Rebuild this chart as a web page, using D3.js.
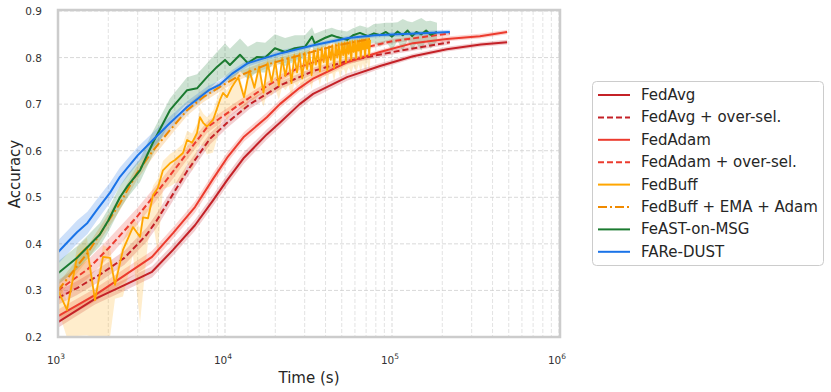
<!DOCTYPE html>
<html>
<head>
<meta charset="utf-8">
<script src="https://cdn.jsdelivr.net/npm/d3@7"></script>
<style>
  body { margin: 0; background: #fff; }
  svg { font-family: 'DejaVu Sans', sans-serif; }
</style>
</head>
<body>
<svg id="chart" width="831" height="392"></svg>
<script>
// [time (s), accuracy, band below, band above (optional)]
const fedAvg = [
  [1000, .232, .012], [1665, .282, .012], [2518, .312, .012], [3656, .34, .012],
  [4885, .387, .012], [6610, .44, .012], [8500, .494, .012], [10300, .537, .012],
  [13000, .585, .012], [17800, .635, .011], [21300, .66, .01], [28000, .70, .01],
  [33700, .722, .009], [53800, .758, .008], [84800, .782, .006], [133700, .803, .005],
  [213000, .818, .005], [340000, .828, .005], [489000, .833, .005]
];
const fedAvgOver = [
  [1000, .284, .015], [1300, .305, .015], [1800, .335, .015], [2500, .37, .015],
  [3400, .42, .015], [3900, .45, .015], [5900, .555, .014], [8100, .625, .012],
  [10300, .66, .011], [14100, .70, .01], [21900, .742, .008], [34400, .772, .007],
  [54600, .793, .006], [112000, .815, .005], [222000, .833, .005]
];
const fedAdam = [
  [1000, .245, .014], [1665, .29, .014], [2518, .333, .014], [3656, .372, .013],
  [4885, .423, .012], [6610, .479, .012], [8500, .54, .012], [10300, .585, .011],
  [13000, .63, .01], [17800, .672, .01], [21300, .70, .009], [28000, .735, .008],
  [33700, .755, .008], [53800, .79, .006], [84800, .812, .005], [133700, .831, .005],
  [213000, .84, .005], [336000, .846, .005], [489000, .855, .005]
];
const fedAdamOver = [
  [1000, .30, .022], [1500, .345, .02], [2000, .39, .02], [3000, .46, .018],
  [4100, .52, .016], [5000, .56, .015], [7800, .65, .012], [12300, .70, .01],
  [18000, .74, .008], [28100, .78, .006], [50000, .81, .005], [100000, .835, .005],
  [222000, .852, .005]
];
const fedBuff = [
  [1000, .30, .04, .02], [1132, .258, .06, .02], [1300, .372, .17, .02], [1490, .393, .19, .02],
  [1665, .279, .08, .02], [1860, .372, .17, .025], [2050, .37, .17, .02], [2195, .312, .03, .02],
  [2450, .387, .10, .02], [2810, .436, .06, .02], [3100, .415, .185, .02], [3230, .457, .16, .02],
  [3460, .455, .05, .02], [3710, .505, .06, .02], [3960, .52, .14, .02], [4250, .558, .04, .02],
  [4680, .573, .05, .02], [5020, .58, .05, .02], [5600, .595, .06, .02], [5930, .623, .05, .02],
  [6350, .617, .06, .02], [6800, .638, .04, .02], [7080, .672, .06, .02], [7400, .66, .05, .02],
  [7800, .652, .06, .02], [8480, .666, .07, .02], [9330, .709, .06, .02], [9740, .724, .04, .015],
  [10270, .715, .05, .015], [11000, .737, .05, .015],
  [12000, .758, .06, .012], [13000, .715, .03, .012], [14000, .772, .06, .012], [15000, .735, .03, .012],
  [16000, .780, .06, .012], [17000, .725, .03, .012], [18000, .788, .06, .012], [19000, .748, .03, .012],
  [20000, .792, .06, .012], [21000, .740, .03, .012], [22000, .798, .06, .012], [23000, .760, .03, .012],
  [24000, .800, .06, .012], [25000, .745, .03, .012], [26000, .805, .06, .012], [27000, .768, .03, .012],
  [28000, .808, .06, .012], [29000, .755, .03, .012], [30000, .810, .06, .012], [31000, .775, .03, .012],
  [32000, .812, .06, .012], [33000, .762, .03, .012], [34000, .815, .06, .012], [35000, .785, .03, .012],
  [36000, .818, .06, .012], [37000, .770, .03, .012], [38000, .820, .06, .012], [39000, .790, .03, .012],
  [40000, .822, .06, .012], [41000, .772, .03, .012], [42000, .824, .06, .012], [43000, .795, .03, .012],
  [44000, .826, .06, .012], [45000, .778, .03, .012], [46000, .828, .06, .012], [47000, .800, .03, .012],
  [48000, .830, .06, .012], [49000, .785, .03, .012], [50000, .831, .06, .012], [51000, .805, .03, .012],
  [52000, .832, .06, .012], [53000, .790, .03, .012], [54000, .833, .06, .012], [55000, .808, .03, .012],
  [56000, .834, .06, .012], [57000, .795, .03, .012], [58000, .835, .06, .012], [59000, .812, .03, .012],
  [60000, .836, .06, .012], [61000, .798, .03, .012], [62000, .836, .06, .012], [63000, .815, .03, .012],
  [64000, .837, .06, .012], [65000, .800, .03, .012], [66000, .838, .06, .012], [67000, .818, .03, .012],
  [68000, .838, .06, .012], [69000, .803, .03, .012], [70000, .839, .06, .012], [71000, .820, .03, .012],
  [72000, .840, .06, .012], [73000, .805, .03, .012], [74000, .838, .05, .012]
];
const fedBuffEma = [
  [1000, .30, .015], [1500, .38, .015], [2350, .487, .015], [2970, .552, .015],
  [3700, .60, .014], [4680, .644, .013], [5930, .687, .012], [7400, .715, .011],
  [9330, .737, .01], [12000, .76, .009], [17800, .785, .008], [28100, .805, .007],
  [45000, .825, .006], [73800, .84, .006]
];
const feast = [
  [1000, .337, .025], [1300, .37, .025], [1780, .42, .025], [2000, .45, .025],
  [2350, .50, .025], [2620, .525, .025], [3100, .558, .025], [3700, .617, .025],
  [4680, .687, .025], [5930, .73, .028], [6800, .734, .03], [7800, .758, .03],
  [8950, .78, .032], [10000, .795, .035], [10700, .784, .035], [12300, .806, .035],
  [13700, .788, .035], [15500, .801, .033], [17400, .80, .032], [19900, .82, .03],
  [22900, .812, .03], [26200, .82, .028], [30100, .823, .025], [33200, .845, .02],
  [34400, .831, .02], [39600, .842, .018], [43600, .848, .016], [47000, .844, .016],
  [53800, .838, .018], [58400, .848, .015], [64300, .853, .016], [71800, .846, .018],
  [78000, .852, .02], [84800, .848, .025], [92000, .855, .02], [100000, .845, .03],
  [108000, .856, .02], [116000, .848, .035], [124000, .858, .02], [132000, .846, .03],
  [140000, .855, .025], [150000, .85, .035], [160000, .858, .02], [170000, .849, .03],
  [186000, .855, .02]
];
const fareDust = [
  [1000, .382, .025], [1150, .405, .025], [1300, .425, .025], [1500, .445, .024],
  [1710, .473, .023], [2050, .51, .022], [2350, .544, .02], [3000, .59, .018],
  [3700, .623, .016], [4700, .66, .014], [5930, .694, .012], [8000, .73, .01],
  [9330, .742, .009], [11000, .765, .008], [13700, .788, .007], [21900, .81, .006],
  [34400, .827, .005], [54600, .842, .005], [79000, .848, .005], [150000, .852, .005],
  [222000, .855, .005]
];

const seriesNames = ['FedAvg', 'FedAvg + over-sel.', 'FedAdam', 'FedAdam + over-sel.',
  'FedBuff', 'FedBuff + EMA + Adam', 'FeAST-on-MSG', 'FARe-DUST'];
const seriesData = [fedAvg, fedAvgOver, fedAdam, fedAdamOver, fedBuff, fedBuffEma, feast, fareDust];
const xTicks = [1e3, 1e4, 1e5, 1e6];
const yTicks = [0.2, 0.3, 0.4, 0.5, 0.6, 0.7, 0.8, 0.9];

const colors = ['#c42127', '#c42127', '#ec3b2e', '#ec3b2e', '#ffa600', '#f08a00', '#1b7a30', '#1a73e8'];
const dashes = [null, '6,3', null, '6,3', null, '9,3,2,3', null, null];

const svg = d3.select('#chart');
const margin = { left: 58, top: 11, right: 559, bottom: 337 };

const x = d3.scaleLog().domain([1e3, 1e6]).range([margin.left, margin.right]);
const y = d3.scaleLinear().domain([0.2, 0.9]).range([margin.bottom, margin.top]);

svg.append('defs').append('clipPath').attr('id', 'plot-clip')
  .append('rect')
  .attr('x', margin.left).attr('y', margin.top)
  .attr('width', margin.right - margin.left).attr('height', margin.bottom - margin.top);

// Grid lines, major and minor
const grid = svg.append('g').attr('class', 'grid');
const minorTicks = x.ticks().filter(t => !xTicks.includes(t));
grid.selectAll('.minor-x')
  .data(minorTicks)
  .enter().append('line')
    .attr('x1', d => x(d)).attr('x2', d => x(d))
    .attr('y1', margin.top).attr('y2', margin.bottom)
    .attr('stroke', '#dcdcdc').attr('stroke-width', 0.8)
    .attr('stroke-dasharray', '4,2');
grid.selectAll('.major-x')
  .data(xTicks)
  .enter().append('line')
    .attr('x1', d => x(d)).attr('x2', d => x(d))
    .attr('y1', margin.top).attr('y2', margin.bottom)
    .attr('stroke', '#cfcfcf').attr('stroke-width', 0.8)
    .attr('stroke-dasharray', '4,2');
grid.selectAll('.major-y')
  .data(yTicks)
  .enter().append('line')
    .attr('x1', margin.left).attr('x2', margin.right)
    .attr('y1', d => y(d)).attr('y2', d => y(d))
    .attr('stroke', '#cfcfcf').attr('stroke-width', 0.8)
    .attr('stroke-dasharray', '4,2');

// Bands and lines
const plot = svg.append('g').attr('clip-path', 'url(#plot-clip)');
const area = d3.area()
  .x(d => x(d[0]))
  .y0(d => y(d[1] - d[2]))
  .y1(d => y(d[1] + (d[3] !== undefined ? d[3] : d[2])));
const line = d3.line()
  .x(d => x(d[0]))
  .y(d => y(d[1]));

seriesData.forEach((data, i) => {
  plot.append('path')
    .datum(data)
    .attr('d', area)
    .attr('fill', colors[i])
    .attr('fill-opacity', i === 4 ? 0.2 : 0.22)
    .attr('stroke', 'none');
});
seriesData.forEach((data, i) => {
  plot.append('path')
    .datum(data)
    .attr('d', line)
    .attr('fill', 'none')
    .attr('stroke', colors[i])
    .attr('stroke-width', i === 4 ? 1.8 : 2)
    .attr('stroke-linejoin', 'round')
    .attr('stroke-dasharray', dashes[i]);
});

// Frame
svg.append('rect')
  .attr('x', margin.left).attr('y', margin.top - 1)
  .attr('width', margin.right - margin.left + 1).attr('height', margin.bottom - margin.top + 1)
  .attr('fill', 'none')
  .attr('stroke', '#cccccc')
  .attr('stroke-width', 2.5);

// Tick labels
svg.selectAll('.ytick')
  .data(yTicks)
  .enter().append('text')
    .attr('x', 42)
    .attr('y', d => y(d) + 4)
    .attr('text-anchor', 'end')
    .attr('font-size', 10.5)
    .attr('fill', '#333')
    .text(d3.format('.1f'));
const xLabels = svg.selectAll('.xtick')
  .data(xTicks)
  .enter().append('text')
    .attr('x', d => x(d) - 2)
    .attr('y', 364)
    .attr('text-anchor', 'middle')
    .attr('font-size', 10.5)
    .attr('fill', '#333');
xLabels.append('tspan').text('10');
xLabels.append('tspan')
  .attr('dy', -5)
  .attr('font-size', 7.5)
  .text(d => Math.round(Math.log10(d)));

// Axis titles
svg.append('text')
  .attr('x', 309).attr('y', 383)
  .attr('text-anchor', 'middle')
  .attr('font-size', 15)
  .attr('fill', '#262626')
  .text('Time (s)');
svg.append('text')
  .attr('transform', 'translate(20, 174) rotate(-90)')
  .attr('text-anchor', 'middle')
  .attr('font-size', 15)
  .attr('fill', '#262626')
  .text('Accuracy');

// Legend
const legend = svg.append('g').attr('class', 'legend');
legend.append('rect')
  .attr('x', 592.5).attr('y', 81.5)
  .attr('width', 231).attr('height', 184)
  .attr('rx', 4)
  .attr('fill', '#fff')
  .attr('stroke', '#cccccc');
seriesNames.forEach((name, i) => {
  const cy = 95 + i * 22.4;
  legend.append('line')
    .attr('x1', 598).attr('x2', 630)
    .attr('y1', cy).attr('y2', cy)
    .attr('stroke', colors[i])
    .attr('stroke-width', 2)
    .attr('stroke-dasharray', dashes[i]);
  legend.append('text')
    .attr('x', 641).attr('y', cy + 5)
    .attr('font-size', 15)
    .attr('fill', '#262626')
    .text(name);
});
</script>
</body>
</html>
